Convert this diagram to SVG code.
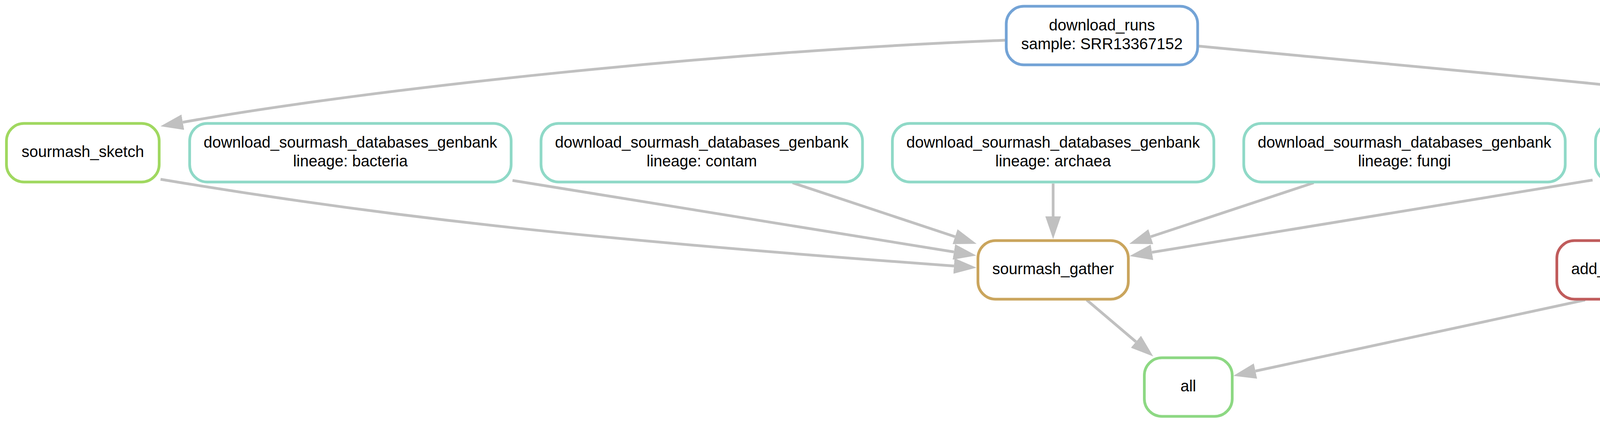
<svg xmlns="http://www.w3.org/2000/svg" width="5900" height="1083" viewBox="0 0 5900 1083">
<style>
  .node rect { fill: #ffffff; stroke-width: 7; }
  .node text { font-family: "Liberation Sans", Arial, Helvetica, sans-serif; font-size: 40px; fill: #000000; text-anchor: middle; }
  .edges path { fill: none; stroke: #c0c0c0; stroke-width: 7; marker-end: url(#ah); }
  .c-runs { stroke: #73a3d6; }
  .c-sketch { stroke: #a0d860; }
  .c-db { stroke: #8fd9c7; }
  .c-search { stroke: #cdd966; }
  .c-gather { stroke: #caa55d; }
  .c-lineage { stroke: #c05c5c; }
  .c-all { stroke: #8dd883; }
</style>
<defs>
  <marker id="ah" markerUnits="userSpaceOnUse" viewBox="0 0 58 40" markerWidth="58" markerHeight="40" refX="0" refY="20" orient="auto">
    <path d="M0,0 L58,20 L0,40 Z" fill="#c0c0c0"/>
  </marker>
</defs>
<rect x="0" y="0" width="5900" height="1083" fill="#ffffff"/>
<g id="connectors" class="edges">
  <path d="M2573,103 C1870,130 960,225 468,313"/>
  <path d="M3068,118 C3690,178 4330,230 4924,313"/>
  <path d="M411,459 C1011,560 1542,615 2442,681"/>
  <path d="M1312,462 L2442,645"/>
  <path d="M2029,468 L2445,606"/>
  <path d="M2696,470 L2696,554"/>
  <path d="M3363,468 L2946,606"/>
  <path d="M4077,461 L2949,646"/>
  <path d="M5165,467 L4727,596"/>
  <path d="M2782,768 L2908,875"/>
  <path d="M4058,768 L3214,950"/>
</g>
<g id="download_runs" class="node">
  <rect class="c-runs" x="2576" y="16" width="490" height="150" rx="45" ry="45"/>
  <text x="2821" y="77.5">download_runs</text>
  <text x="2821" y="125.5">sample: SRR13367152</text>
</g>
<g id="sourmash_sketch" class="node">
  <rect class="c-sketch" x="16.5" y="316" width="391" height="150" rx="45" ry="45"/>
  <text x="212" y="402">sourmash_sketch</text>
</g>
<g id="db_bacteria" class="node">
  <rect class="c-db" x="485.5" y="316" width="823" height="150" rx="45" ry="45"/>
  <text x="897" y="377.5">download_sourmash_databases_genbank</text>
  <text x="897" y="425.5">lineage: bacteria</text>
</g>
<g id="db_contam" class="node">
  <rect class="c-db" x="1385" y="316" width="823" height="150" rx="45" ry="45"/>
  <text x="1796.5" y="377.5">download_sourmash_databases_genbank</text>
  <text x="1796.5" y="425.5">lineage: contam</text>
</g>
<g id="db_archaea" class="node">
  <rect class="c-db" x="2284.5" y="316" width="823" height="150" rx="45" ry="45"/>
  <text x="2696" y="377.5">download_sourmash_databases_genbank</text>
  <text x="2696" y="425.5">lineage: archaea</text>
</g>
<g id="db_fungi" class="node">
  <rect class="c-db" x="3184" y="316" width="823" height="150" rx="45" ry="45"/>
  <text x="3595.5" y="377.5">download_sourmash_databases_genbank</text>
  <text x="3595.5" y="425.5">lineage: fungi</text>
</g>
<g id="db_protozoa" class="node">
  <rect class="c-db" x="4084.5" y="316" width="823" height="150" rx="45" ry="45"/>
  <text x="4496" y="377.5">download_sourmash_databases_genbank</text>
  <text x="4496" y="425.5">lineage: protozoa</text>
</g>
<g id="search_for_capsid_proteins_in_leftover_reads" class="node">
  <rect class="c-search" x="4985.5" y="316" width="897" height="150" rx="45" ry="45"/>
  <text x="5434" y="402">search_for_capsid_proteins_in_leftover_reads</text>
</g>
<g id="sourmash_gather" class="node">
  <rect class="c-gather" x="2503.5" y="616" width="385" height="150" rx="45" ry="45"/>
  <text x="2696" y="702">sourmash_gather</text>
</g>
<g id="add_lineage_information_to_capsid_results" class="node">
  <rect class="c-lineage" x="3985.5" y="616" width="845" height="150" rx="45" ry="45"/>
  <text x="4408" y="702">add_lineage_information_to_capsid_results</text>
</g>
<g id="all" class="node">
  <rect class="c-all" x="2929.5" y="916" width="225" height="150" rx="45" ry="45"/>
  <text x="3042" y="1002">all</text>
</g>
</svg>
